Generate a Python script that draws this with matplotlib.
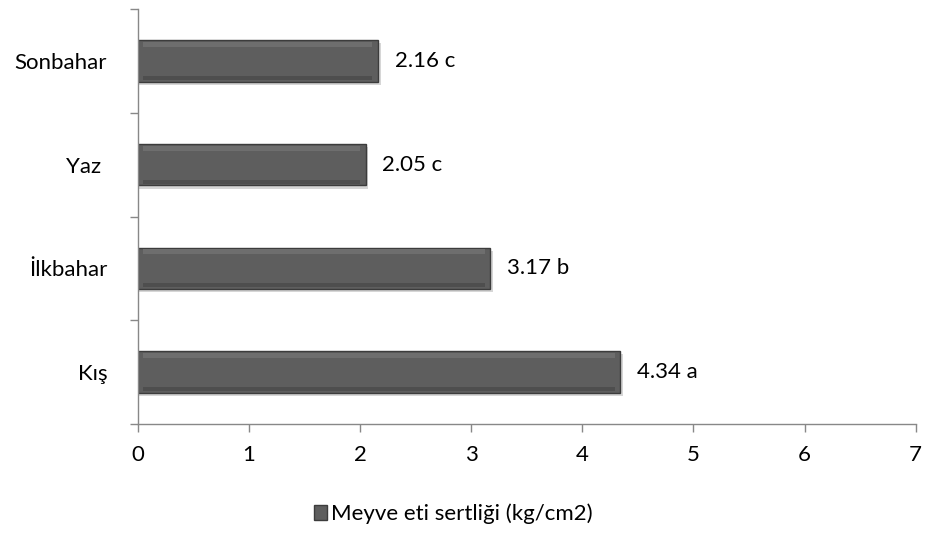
import matplotlib
matplotlib.use("Agg")
import matplotlib.pyplot as plt
from matplotlib.patches import Patch

plt.rcParams['font.family'] = ['Lato', 'DejaVu Sans']

categories = ["Kış", "İlkbahar", "Yaz ", "Sonbahar"]
values = [4.34, 3.17, 2.05, 2.16]
letters = ["a", "b", "c", "c"]
xticks = [0, 1, 2, 3, 4, 5, 6, 7]
series_name = "Meyve eti sertliği (kg/cm2)"

FS = 16

fig = plt.figure(figsize=(9.25, 5.36), dpi=100)
ax = fig.add_axes([0.149, 0.209, 0.841, 0.774])

pos = list(range(len(categories)))
bar_h = 0.4
# drop shadow
ax.barh([p - 0.03 for p in pos], [v + 0.025 for v in values], height=bar_h,
        color="#d6d6d6", edgecolor="none", zorder=1)
ax.barh(pos, values, height=bar_h, color="#5e5e5e", edgecolor="#3c3c3c",
        linewidth=1.0, zorder=2)
# soft bevel along top and bottom edges
ax.barh([p + bar_h * 0.40 for p in pos], [v - 0.1 for v in values], left=0.05,
        height=bar_h * 0.12, color="#6e6e6e", edgecolor="none", zorder=3)
ax.barh([p - bar_h * 0.41 for p in pos], [v - 0.1 for v in values], left=0.05,
        height=bar_h * 0.10, color="#4e4e4e", edgecolor="none", zorder=3)

for p, v, l in zip(pos, values, letters):
    ax.text(v + 0.15, p, f"{v:.2f} {l}", va="center", ha="left", fontsize=FS,
            color="#000000")

ax.set_xlim(0, 7)
ax.set_ylim(-0.5, len(categories) - 0.5)
ax.set_xticks(xticks)
ax.set_xticklabels([str(t) for t in xticks], fontsize=FS)
ax.set_yticks(pos)
ax.set_yticklabels(categories, fontsize=FS)
ax.set_yticks([p + 0.5 for p in [-1] + pos], minor=True)
ax.tick_params(axis="y", which="major", length=0, pad=22)
ax.tick_params(axis="y", which="minor", length=6, color="#888888", width=1)
ax.tick_params(axis="x", which="major", length=6, color="#888888", width=1, pad=9)

for s in ["top", "right"]:
    ax.spines[s].set_visible(False)
for s in ["left", "bottom"]:
    ax.spines[s].set_color("#888888")
    ax.spines[s].set_linewidth(1)

handle = Patch(facecolor="#5e5e5e", edgecolor="#3c3c3c")
fig.legend([handle], [series_name], loc="center", bbox_to_anchor=(0.49, 0.041),
           frameon=False, fontsize=FS, handlelength=0.6, handleheight=0.6,
           handletextpad=0.15)

fig.savefig("out.png", dpi=100)
